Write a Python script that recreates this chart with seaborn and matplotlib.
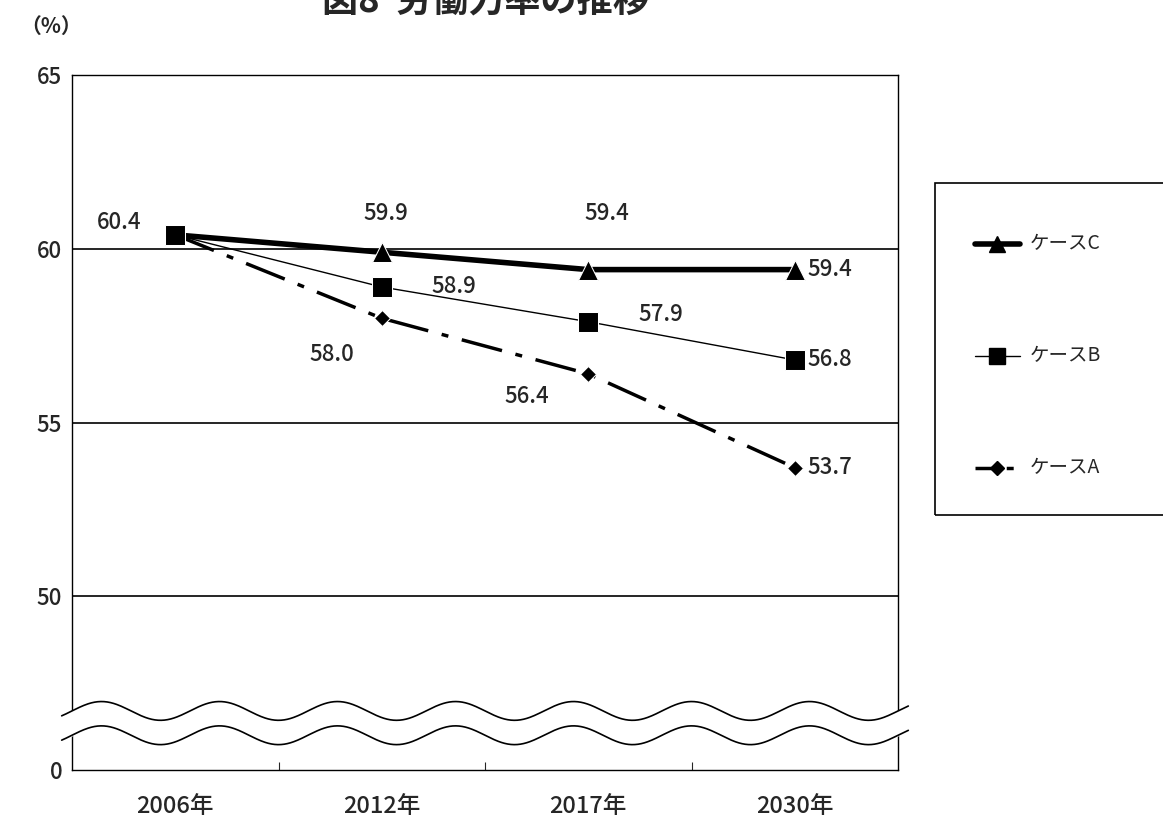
import numpy as np
import pandas as pd
import matplotlib
matplotlib.use("Agg")
import matplotlib.pyplot as plt
import seaborn as sns
from matplotlib.lines import Line2D
from matplotlib.patches import Rectangle

years = ["2006年", "2012年", "2017年", "2030年"]
case_c = [60.4, 59.9, 59.4, 59.4]
case_b = [60.4, 58.9, 57.9, 56.8]
case_a = [60.4, 58.0, 56.4, 53.7]
ytick_vals = [45, 50, 55, 60, 65]
ytick_labels = ["0", "50", "55", "60", "65"]

sns.set_style("white")
plt.rcParams["font.family"] = ["Noto Sans CJK JP", "DejaVu Sans"]

fig = plt.figure(figsize=(11.63, 8.26), dpi=100)
ax = fig.add_axes([72 / 1163, 56 / 826, 826 / 1163, 695 / 826])

x = np.arange(len(years))
sns.lineplot(x=x, y=case_a, ax=ax, color="black", lw=2.5, marker="D", ms=8,
             linestyle=(0, (12, 4, 2, 4)))
sns.lineplot(x=x, y=case_c, ax=ax, color="black", lw=4, marker="^", ms=14)
sns.lineplot(x=x, y=case_b, ax=ax, color="black", lw=1, marker="s", ms=15)

ax.set_xlim(-0.5, 3.5)
ax.set_ylim(45, 65)
ax.set_yticks(ytick_vals)
ax.set_yticklabels(ytick_labels, fontsize=16, fontweight="medium")
for v in [50, 55, 60]:
    ax.axhline(v, color="black", lw=1.2, zorder=0)
ax.set_xticks([0.5, 1.5, 2.5], minor=False)
ax.set_xticklabels([])
ax.tick_params(axis="x", direction="in", length=6, bottom=True)
for i, lab in enumerate(years):
    ax.text(i, 45 - 1.05, lab, ha="center", va="center", fontsize=17, fontweight="medium")
for s in ax.spines.values():
    s.set_color("black")
    s.set_linewidth(1)

# wavy break
xs = np.linspace(-0.55, 3.55, 800)
w = 0.27 * np.sin((xs + 0.5) * 2 * np.pi * 1.75)
ax.fill_between(xs, 46.0 + w, 46.7 + w, color="white", zorder=5, clip_on=False)
ax.plot(xs, 46.0 + w, color="black", lw=1.2, zorder=6, clip_on=False)
ax.plot(xs, 46.7 + w, color="black", lw=1.2, zorder=6, clip_on=False)

# value labels
lab_kw = dict(fontsize=16, ha="center", va="center", fontweight="medium")
ax.text(-0.27, 60.75, f"{case_c[0]:.1f}", **lab_kw)
ax.text(1.02, 61.0, f"{case_c[1]:.1f}", **lab_kw)
ax.text(2.09, 61.0, f"{case_c[2]:.1f}", **lab_kw)
ax.text(3.17, 59.4, f"{case_c[3]:.1f}", **lab_kw)
ax.text(1.35, 58.9, f"{case_b[1]:.1f}", **lab_kw)
ax.text(2.35, 58.1, f"{case_b[2]:.1f}", **lab_kw)
ax.text(3.17, 56.8, f"{case_b[3]:.1f}", **lab_kw)
ax.text(0.76, 56.95, f"{case_a[1]:.1f}", **lab_kw)
ax.text(1.7, 55.75, f"{case_a[2]:.1f}", **lab_kw)
ax.text(3.17, 53.7, f"{case_a[3]:.1f}", **lab_kw)

fig.text(20 / 1163, 1 - 26 / 826, "（%）", fontsize=15, va="center", fontweight="bold")
fig.text(485 / 1163, 1 - 2 / 826, "図8  労働力率の推移", fontsize=26,
         fontweight="bold", ha="center", va="center")

# legend box
fig.patches.append(Rectangle((935 / 1163, 1 - 515 / 826), 0.3, 332 / 826,
                             transform=fig.transFigure, fill=False, ec="black", lw=1.2))
entries = [(244, "ケースC", "^", 4, "-", 12),
           (356, "ケースB", "s", 1, "-", 11),
           (468, "ケースA", "D", 2.5, (0, (6, 3, 2, 3)), 7)]
for yy, txt, mk, lw, ls, ms in entries:
    yf = 1 - yy / 826
    fig.add_artist(Line2D([975 / 1163, 1020 / 1163], [yf, yf], color="black", lw=lw,
                          linestyle=ls, transform=fig.transFigure))
    fig.add_artist(Line2D([997 / 1163], [yf], color="black", marker=mk, ms=ms,
                          transform=fig.transFigure))
    fig.text(1030 / 1163, yf, txt, fontsize=14, va="center")

fig.savefig("out.png", dpi=100)
